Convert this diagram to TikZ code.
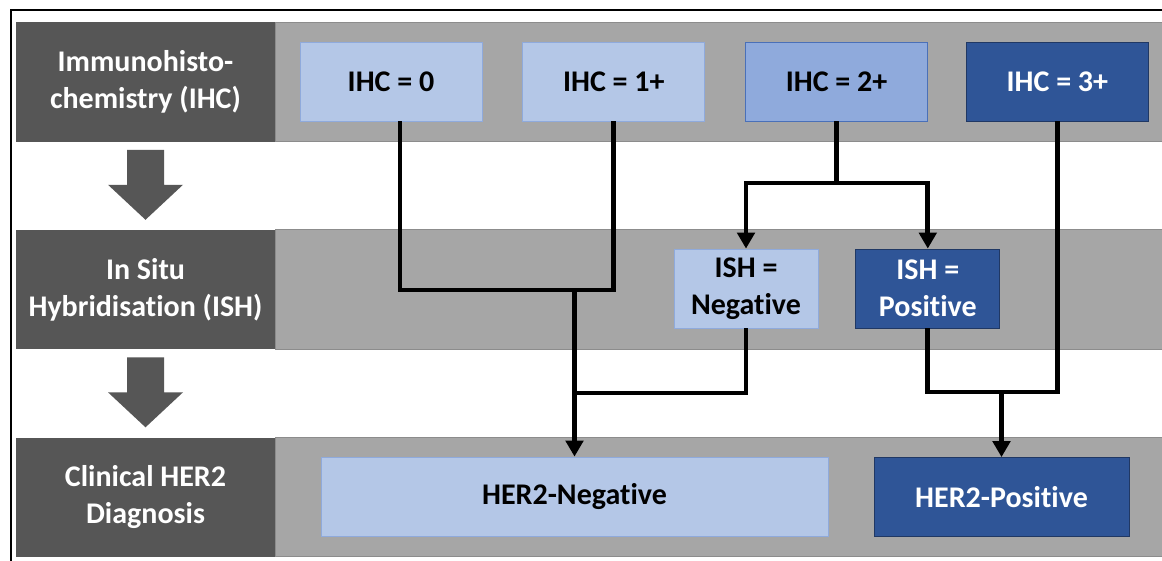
\documentclass[tikz,border=0pt]{standalone}
\usepackage{fontspec}
\setmainfont{Carlito}[Ligatures=NoCommon]
\usetikzlibrary{positioning,arrows.meta,backgrounds}

\definecolor{labelgrey}{HTML}{565656}
\definecolor{bandgrey}{HTML}{A6A6A6}
\definecolor{bandline}{HTML}{8C8C8C}
\definecolor{lightblue}{HTML}{B4C7E7}
\definecolor{lightline}{HTML}{8FAADC}
\definecolor{midblue}{HTML}{8FAADC}
\definecolor{midline}{HTML}{4A70B8}
\definecolor{darkblue}{HTML}{2F5597}
\definecolor{darkline}{HTML}{203864}

\tikzset{
  boxtext/.style={font=\bfseries\fontsize{22.5}{28}\selectfont, align=center, inner sep=0pt},
  rowlabel/.style={boxtext, fill=labelgrey, text=white, minimum width=194.25pt, minimum height=89.25pt},
  lightbox/.style={boxtext, fill=lightblue, draw=lightline, line width=0.6pt},
  midbox/.style={boxtext, fill=midblue, draw=midline, line width=0.6pt},
  darkbox/.style={boxtext, fill=darkblue, draw=darkline, text=white, line width=0.6pt},
  ihcbox/.style={minimum width=136.5pt, minimum height=59.25pt},
  ishbox/.style={minimum width=108pt, minimum height=59.25pt},
  band/.style={fill=bandgrey, draw=bandline, line width=0.6pt},
  stagearrow/.style={fill=labelgrey},
  link/.style={line width=3.5pt, black},
  flow/.style={link, -{Triangle[width=13pt,length=12pt]}},
}

\begin{document}
\begin{tikzpicture}[x=0.75pt, y=-0.75pt]
  \useasboundingbox (0,0) rectangle (1162,560);

  % row labels
  \node[rowlabel] (lbl1) at (145.5,82) {Immunohisto-\\chemistry (IHC)};
  \node[rowlabel, below=66pt of lbl1] (lbl2) {In Situ\\Hybridisation (ISH)};
  \node[rowlabel, below=66pt of lbl2] (lbl3) {Clinical HER2\\Diagnosis};

  % IHC scores
  \node[lightbox, ihcbox] (ihc0) at (391,81.5) {IHC = 0};
  \node[lightbox, ihcbox, right=30pt of ihc0] (ihc1) {IHC = 1+};
  \node[midbox, ihcbox, right=30pt of ihc1] (ihc2) {IHC = 2+};
  \node[darkbox, ihcbox, right=28.5pt of ihc2] (ihc3) {IHC = 3+};

  % ISH results
  \node[lightbox, ishbox] (ishneg) at (746,288.5) {ISH =\\Negative};
  \node[darkbox, ishbox, right=27.75pt of ishneg] (ishpos) {ISH =\\Positive};

  % diagnosis
  \node[lightbox, minimum width=380.25pt, minimum height=59.25pt] (her2neg) at (574.5,496.5) {HER2-Negative};
  \node[darkbox, minimum width=191.25pt, minimum height=59.25pt] (her2pos) at (1001.5,497) {HER2-Positive};

  \begin{scope}[on background layer]
    \fill[white] (0,0) rectangle (1162,560);
    \foreach \r in {lbl1,lbl2,lbl3}
      \draw[band] (\r.north east) rectangle (\r.south east -| 1175,0);
  \end{scope}

  % stage arrows
  \foreach \a/\b in {lbl1/lbl2, lbl2/lbl3}
    \fill[stagearrow] ([xshift=-13.875pt,yshift=-6pt]\a.south) -- ++(0,-26.25pt) -- ++(-14.25pt,0)
      -- ++(28.125pt,-26.25pt) -- ++(28.125pt,26.25pt) -- ++(-14.25pt,0) -- ++(0,26.25pt) -- cycle;

  % outer frame
  \draw[line width=1.5pt] (1175,10.5) -- (10.5,10.5) -- (10.5,575);

  % connectors
  \coordinate (jneg) at (her2neg.north |- 0,290);
  \coordinate (jneg2) at (her2neg.north |- 0,393);
  \coordinate (jsplit) at (ihc2.south |- 0,183);
  \coordinate (jpos) at (her2pos.north |- 0,392);

  \draw[link] ([xshift=6.75pt]ihc0.south) |- (jneg) -| (ihc1.south);
  \draw[link] (ishneg.south) |- (jneg2);
  \draw[flow] (jneg) -- (her2neg.north);
  \draw[link] (ihc2.south) -- (jsplit);
  \draw[flow] (jsplit) -| (ishneg.north);
  \draw[flow] (jsplit) -| (ishpos.north);
  \draw[link] (ishpos.south) |- (jpos -| ihc3.south) -- (ihc3.south);
  \draw[flow] (jpos) -- (her2pos.north);
\end{tikzpicture}
\end{document}
